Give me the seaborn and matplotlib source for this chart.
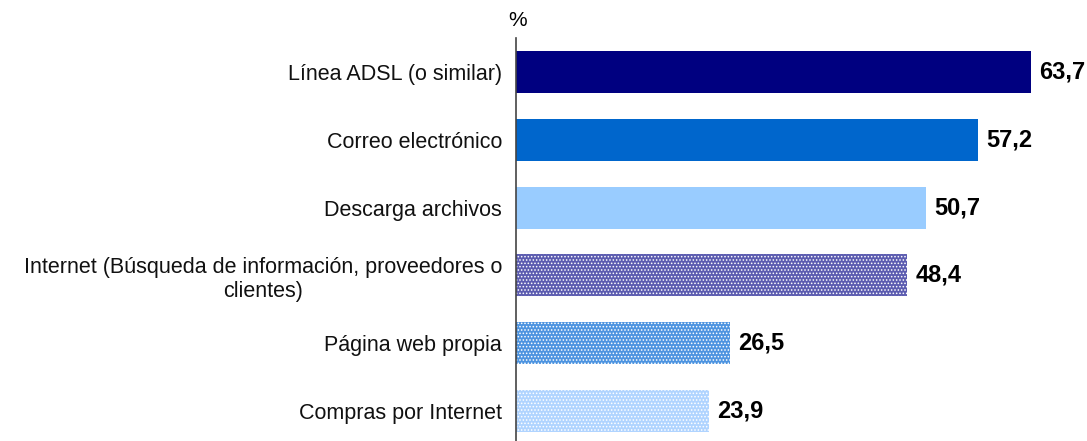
import matplotlib
matplotlib.use("Agg")
import matplotlib.pyplot as plt
import seaborn as sns
import pandas as pd
import numpy as np

categories = [
    "Línea ADSL (o similar)",
    "Correo electrónico",
    "Descarga archivos",
    "Internet (Búsqueda de información, proveedores o\nclientes)",
    "Página web propia",
    "Compras por Internet",
]
values = [63.7, 57.2, 50.7, 48.4, 26.5, 23.9]
value_labels = ["63,7", "57,2", "50,7", "48,4", "26,5", "23,9"]
colors = ["#000080", "#0066CC", "#99CCFF", "#5C5CB0", "#4D94E0", "#B0D4FF"]
patterned = [False, False, False, True, True, True]

sns.set_theme(style="white")
plt.rcParams["font.family"] = ["Liberation Sans", "DejaVu Sans"]
plt.rcParams["hatch.linewidth"] = 0.7

df = pd.DataFrame({"cat": categories, "val": values})

W, H = 1087, 441
fig = plt.figure(figsize=(W / 100, H / 100), dpi=100)
left_px, top_px, right_px, bottom_px = 516, 38, 1087, 445
ax = fig.add_axes([left_px / W, 1 - bottom_px / H, (right_px - left_px) / W, (bottom_px - top_px) / H])

sns.barplot(data=df, x="val", y="cat", hue="cat", palette=colors, legend=False,
            orient="h", width=0.62, ax=ax, saturation=1)

for p, pat in zip(ax.patches, patterned):
    p.set_linewidth(0)
    if pat:
        p.set_hatch(".....")
        p.set_edgecolor("white")

xmax = (right_px - left_px) / 8.085
ax.set_xlim(0, xmax)
ax.set_ylim(5.5, -0.5)

for i, (v, lab) in enumerate(zip(values, value_labels)):
    ax.text(v + 1.0, i, lab, va="center", ha="left", fontsize=17, fontweight="bold", color="black")

ax.set_xlabel("")
ax.set_ylabel("")
ax.set_xticks([])
ax.set_yticks(range(len(categories)))
ax.set_yticklabels(categories, fontsize=15.5, color="#111111", multialignment="center")
ax.tick_params(axis="y", which="major", length=0, pad=10)
ax.set_yticks(np.arange(-0.5, 6.0, 1.0), minor=True)
ax.tick_params(axis="y", which="minor", length=6, width=1.2, color="#333333", direction="out")

for s in ["top", "right", "bottom"]:
    ax.spines[s].set_visible(False)
ax.spines["left"].set_linewidth(1.2)
ax.spines["left"].set_color("#444444")

fig.text(518 / W, 1 - 20 / H, "%", ha="center", va="center", fontsize=15, color="black")

fig.savefig("out.png", dpi=100)
